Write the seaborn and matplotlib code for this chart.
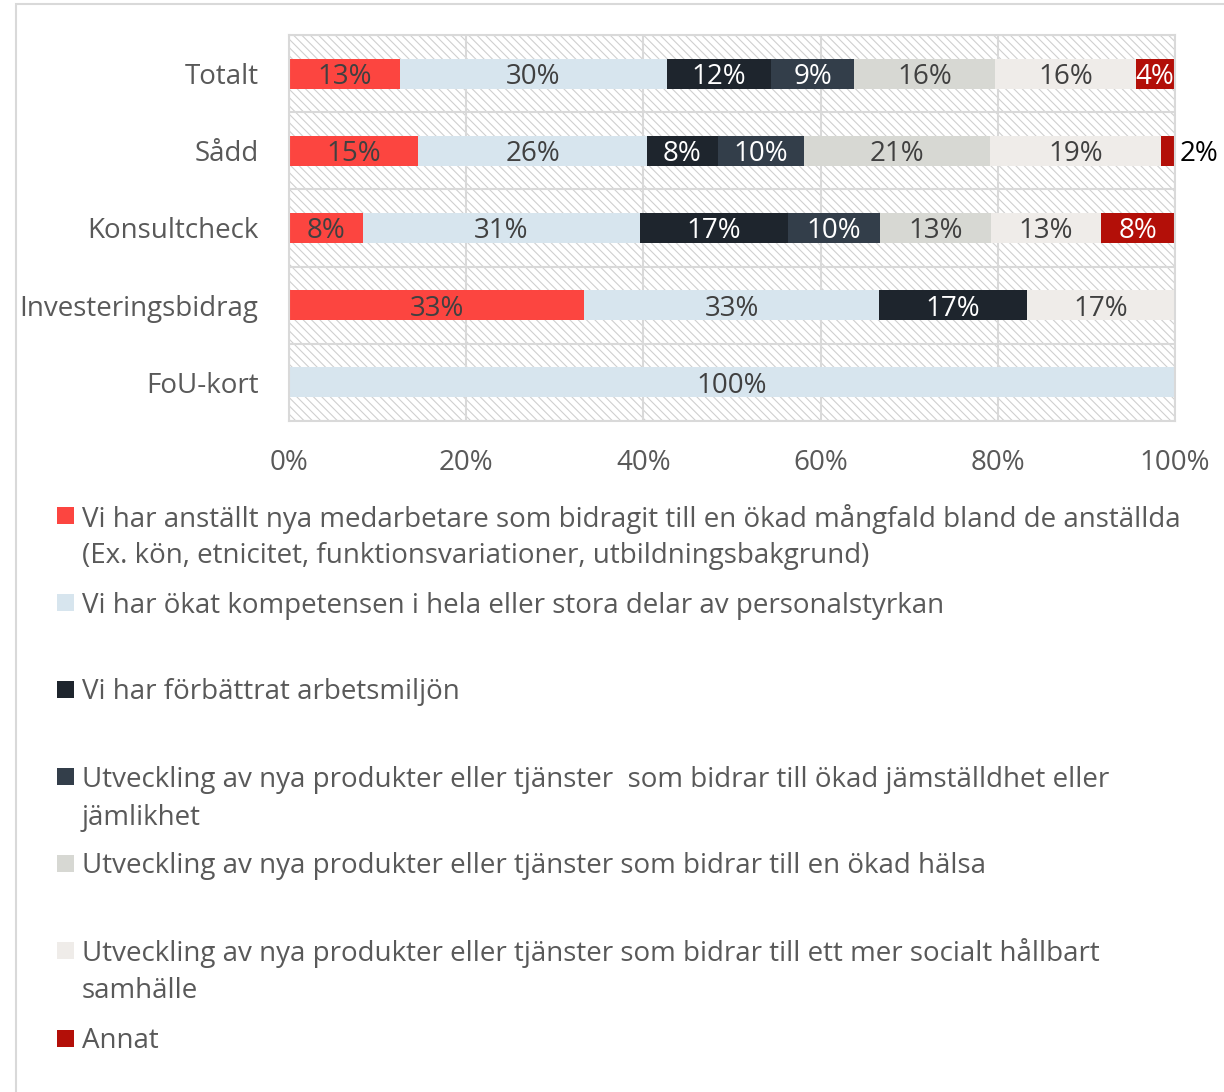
import matplotlib
matplotlib.use('Agg')
import seaborn as sns
import matplotlib.pyplot as plt
import matplotlib.patches as mpatches
import numpy as np

# ── data (percent of answers) ──
categories = ['Totalt', 'Sådd', 'Konsultcheck', 'Investeringsbidrag', 'FoU-kort']

mangfald     = [12.5, 14.6, 8.3, 33.3, 0]
kompetens    = [30.2, 25.8, 31.3, 33.3, 100]
arbetsmiljo  = [11.7, 8.0, 16.7, 16.7, 0]
jamstalldhet = [9.4, 9.7, 10.4, 0, 0]
halsa        = [15.9, 21.0, 12.5, 0, 0]
socialt      = [15.9, 19.3, 12.5, 16.7, 0]
annat        = [4.3, 1.7, 8.3, 0, 0]

series_labels = [
    'Vi har anställt nya medarbetare som bidragit till en ökad mångfald bland de anställda\n'
    '(Ex. kön, etnicitet, funktionsvariationer, utbildningsbakgrund)',
    'Vi har ökat kompetensen i hela eller stora delar av personalstyrkan',
    'Vi har förbättrat arbetsmiljön',
    'Utveckling av nya produkter eller tjänster  som bidrar till ökad jämställdhet eller\njämlikhet',
    'Utveckling av nya produkter eller tjänster som bidrar till en ökad hälsa',
    'Utveckling av nya produkter eller tjänster som bidrar till ett mer socialt hållbart\nsamhälle',
    'Annat',
]
series = [mangfald, kompetens, arbetsmiljo, jamstalldhet, halsa, socialt, annat]

colors = ['#FC4540', '#D7E5EE', '#1E252D', '#333E4A', '#D7D8D3', '#EFECE9', '#B30F08']
label_colors = ['#404040', '#404040', 'white', 'white', '#404040', '#404040', 'white']
xticks = [0, 20, 40, 60, 80, 100]

# ── style ──
sns.set_theme(style='white')
plt.rcParams['font.family'] = ['Open Sans', 'DejaVu Sans']
plt.rcParams['hatch.linewidth'] = 0.8
FS = 20
GRID = '#D9D9D9'
TICK = '#595959'

fig = plt.figure(figsize=(12.24, 10.92), dpi=100)
ax = fig.add_axes([289 / 1224, 1 - 421 / 1092, (1175 - 289) / 1224, (421 - 35) / 1092])

# hatched plot-area background
ax.add_patch(mpatches.Rectangle((0, 0), 1, 1, transform=ax.transAxes, facecolor='white',
                                edgecolor='#CFCFCF', hatch='\\\\\\\\', lw=0, zorder=0.1))

# stacked bars: draw cumulative totals from the last series back to the first
data = np.array(series)
cum = np.cumsum(data, axis=0)
for i in range(len(series) - 1, -1, -1):
    sns.barplot(x=cum[i], y=categories, color=colors[i], saturation=1, width=0.39,
                orient='h', linewidth=0, ax=ax, zorder=2)

# value labels
for i, vals in enumerate(series):
    for j, v in enumerate(vals):
        if v <= 0:
            continue
        txt = f'{int(v + 0.5)}%'
        if v < 3:
            ax.text(100.5, j, txt, ha='left', va='center_baseline', fontsize=FS,
                    color='black', zorder=3)
        else:
            ax.text(cum[i][j] - v / 2, j, txt, ha='center', va='center_baseline', fontsize=FS,
                    color=label_colors[i], zorder=3)

ax.set_xlim(0, 100)
ax.set_ylim(4.5, -0.5)
ax.set_xticks(xticks)
ax.set_xticklabels([f'{t}%' for t in xticks])
ax.set_yticks(range(len(categories)))
ax.set_yticklabels(categories)
ax.set_yticks(np.arange(-0.5, len(categories), 1), minor=True)
ax.set_xlabel('')
ax.set_ylabel('')
ax.set_axisbelow(True)
ax.grid(axis='x', color=GRID, lw=1.5, zorder=0.5)
ax.grid(axis='y', which='minor', color=GRID, lw=1.5, zorder=0.5)
ax.grid(axis='y', which='major', visible=False)
ax.tick_params(axis='both', which='both', length=0, labelsize=FS, labelcolor=TICK)
ax.tick_params(axis='x', pad=20)
ax.tick_params(axis='y', pad=22)
for s in ax.spines.values():
    s.set_visible(True)
    s.set_color(GRID)
    s.set_linewidth(1.5)

# legend, one entry per row, drawn in figure pixels
legend_y = [515, 602, 689, 776, 863, 950, 1038]
for lab, col, y in zip(series_labels, colors, legend_y):
    fig.add_artist(mpatches.Rectangle((57 / 1224, 1 - (y + 9) / 1092), 17 / 1224, 17 / 1092,
                                      transform=fig.transFigure, facecolor=col, lw=0))
    for k, line in enumerate(lab.split('\n')):
        fig.text(82 / 1224, 1 - (y + 38 * k) / 1092, line, ha='left', va='center_baseline',
                 fontsize=FS, color=TICK)

# outer chart border
fig.add_artist(mpatches.Rectangle((16 / 1224, -0.02), 1.1, 1 - 4 / 1092 + 0.02,
                                  transform=fig.transFigure, fill=False,
                                  edgecolor=GRID, lw=1.5))

fig.savefig('out.png', dpi=100)
